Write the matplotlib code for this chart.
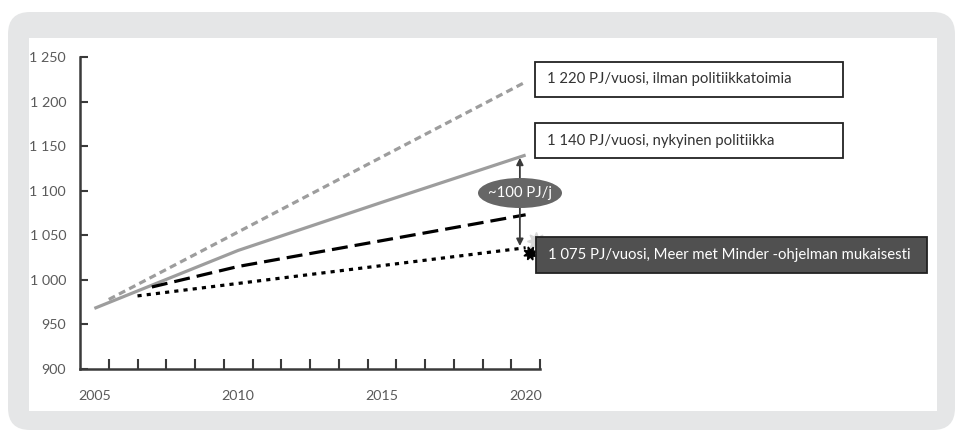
import matplotlib
matplotlib.use('Agg')
import matplotlib.pyplot as plt
from matplotlib.patches import FancyBboxPatch, Rectangle, Ellipse

plt.rcParams['font.family'] = ['Lato', 'DejaVu Sans']

# Luetut arvot (PJ/vuosi)
years_current = [2005, 2010, 2015, 2020]
values_current = [968, 1033, 1087, 1140]

years_nopolicy = [2005.5, 2020]
values_nopolicy = [978, 1222]

years_mmm = [2007, 2010, 2015, 2020]
values_mmm = [992, 1015, 1044, 1073]

years_dotted = [2006.5, 2020]
values_dotted = [982, 1036]

y_ticks = [900, 950, 1000, 1050, 1100, 1150, 1200, 1250]
y_ticklabels = ['900', '950', '1 000', '1 050', '1 100', '1 150', '1 200', '1 250']
x_ticks = [2005, 2010, 2015, 2020]

box_labels = ['1 220 PJ/vuosi, ilman politiikkatoimia',
              '1 140 PJ/vuosi, nykyinen politiikka',
              '1 075 PJ/vuosi, Meer met Minder -ohjelman mukaisesti']
diff_label = '~100 PJ/j'

W, H = 957, 433
fig = plt.figure(figsize=(W / 100, H / 100), dpi=100)
fig.patch.set_facecolor('white')

# taustat
bg = FancyBboxPatch((0.08, 0.03), 9.47, 4.18, boxstyle='round,pad=0,rounding_size=0.22',
                    transform=fig.dpi_scale_trans, facecolor='#e5e6e7', edgecolor='none', zorder=-2)
fig.patches.append(bg)
inner = Rectangle((0.29, 0.22), 9.08, 3.73, transform=fig.dpi_scale_trans,
                  facecolor='white', edgecolor='none', zorder=-1)
fig.patches.append(inner)

def px(x, y):
    return x / W, 1 - y / H

l, t = px(80, 57)
r, b = px(540, 369)
ax = fig.add_axes([l, b, r - l, t - b])
ax.set_facecolor('none')

axis_col = '#3a3a3a'
gray = '#9d9d9d'

ax.plot(years_nopolicy, values_nopolicy, color=gray, lw=2.3, dashes=(2.2, 1.4),
        dash_capstyle='butt', solid_capstyle='butt', clip_on=False)
ax.plot(years_current, values_current, color=gray, lw=2.3, solid_capstyle='butt', clip_on=False)
ax.plot(years_mmm, values_mmm, color='black', lw=2.3, dashes=(5.0, 2.2),
        dash_capstyle='butt', clip_on=False)
ax.plot(years_dotted, values_dotted, color='black', lw=2.3, dashes=(1.3, 1.6),
        dash_capstyle='butt', clip_on=False)

# tähti viivan päässä
ax.plot([2020.35], [1044], marker=(8, 1, 0), ms=13, color='#d8d8d8', clip_on=False, zorder=4)
ax.plot([2020.15], [1030], marker=(8, 1, 20), ms=10, color='black', clip_on=False, zorder=5)

# ero-nuoli
ax.annotate('', xy=(2019.8, 1137), xytext=(2019.8, 1038),
            arrowprops=dict(arrowstyle='<|-|>', color='#3a3a3a', lw=1.3,
                            mutation_scale=10, shrinkA=0, shrinkB=0), zorder=3)

ax.set_xlim(2004.5, 2020.5)
ax.set_ylim(900, 1250)
ax.set_yticks(y_ticks)
ax.set_yticklabels(y_ticklabels)
ax.set_xticks(x_ticks)
ax.set_xticks([y + 0.5 for y in range(2005, 2021)], minor=True)

for s in ['top', 'right']:
    ax.spines[s].set_visible(False)
for s in ['left', 'bottom']:
    ax.spines[s].set_color(axis_col)
    ax.spines[s].set_linewidth(1.8)

ax.tick_params(axis='y', direction='in', length=6, width=1.5, color=axis_col,
               labelsize=10.3, labelcolor='#5a5a5a', pad=10)
ax.tick_params(axis='x', which='major', length=0, labelsize=10.3, labelcolor='#5a5a5a', pad=15)
ax.tick_params(axis='x', which='minor', direction='in', length=7, width=1.5, color=axis_col)

# ellipsi
cx, cy = px(520, 193)
ell = Ellipse((cx, cy), 84 / W, 30 / H, transform=fig.transFigure,
              facecolor='#666666', edgecolor='none', zorder=6)
fig.patches.append(ell)
fig.text(cx, cy, diff_label, ha='center', va='center', color='white', fontsize=10.7, zorder=7)

# laatikot
boxes = [(535, 62, 843, 97, 'white', 'black'),
         (535, 123, 843, 158, 'white', 'black'),
         (536, 237, 927, 273, '#505050', 'white')]
for (x0, y0, x1, y1, fc, tc), lab in zip(boxes, box_labels):
    bx, by = px(x0, y1)
    rect = Rectangle((bx, by), (x1 - x0) / W, (y1 - y0) / H, transform=fig.transFigure,
                     facecolor=fc, edgecolor='#222222', lw=1.3, zorder=6)
    fig.patches.append(rect)
    tx, ty = px(x0 + 12, (y0 + y1) / 2)
    fig.text(tx, ty, lab, ha='left', va='center', color=tc if fc != 'white' else '#333333',
             fontsize=10.7, zorder=7)

fig.savefig('out.png', dpi=100, facecolor=fig.get_facecolor())
